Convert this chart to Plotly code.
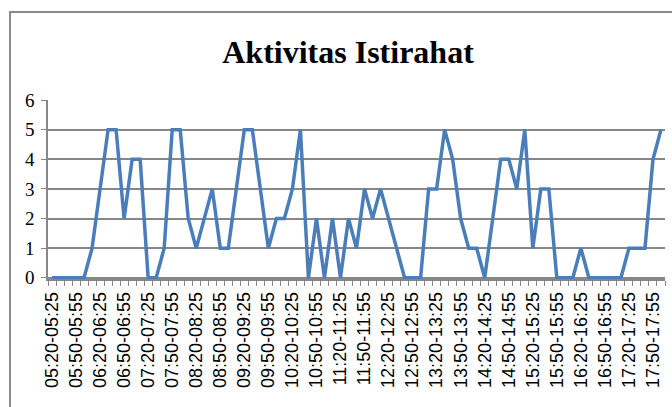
import plotly.graph_objects as go

title_text = "Aktivitas Istirahat"

categories = [
    "05:20-05:25", "05:30-05:35", "05:40-05:45", "05:50-05:55", "06:00-06:05", "06:10-06:15",
    "06:20-06:25", "06:30-06:35", "06:40-06:45", "06:50-06:55", "07:00-07:05", "07:10-07:15",
    "07:20-07:25", "07:30-07:35", "07:40-07:45", "07:50-07:55", "08:00-08:05", "08:10-08:15",
    "08:20-08:25", "08:30-08:35", "08:40-08:45", "08:50-08:55", "09:00-09:05", "09:10-09:15",
    "09:20-09:25", "09:30-09:35", "09:40-09:45", "09:50-09:55", "10:00-10:05", "10:10-10:15",
    "10:20-10:25", "10:30-10:35", "10:40-10:45", "10:50-10:55", "11:00-11:05", "11:10-11:15",
    "11:20-11:25", "11:30-11:35", "11:40-11:45", "11:50-11:55", "12:00-12:05", "12:10-12:15",
    "12:20-12:25", "12:30-12:35", "12:40-12:45", "12:50-12:55", "13:00-13:05", "13:10-13:15",
    "13:20-13:25", "13:30-13:35", "13:40-13:45", "13:50-13:55", "14:00-14:05", "14:10-14:15",
    "14:20-14:25", "14:30-14:35", "14:40-14:45", "14:50-14:55", "15:00-15:05", "15:10-15:15",
    "15:20-15:25", "15:30-15:35", "15:40-15:45", "15:50-15:55", "16:00-16:05", "16:10-16:15",
    "16:20-16:25", "16:30-16:35", "16:40-16:45", "16:50-16:55", "17:00-17:05", "17:10-17:15",
    "17:20-17:25", "17:30-17:35", "17:40-17:45", "17:50-17:55", "18:00-18:05",
]

values = [
    0, 0, 0, 0, 0, 1, 3, 5, 5, 2, 4, 4,
    0, 0, 1, 5, 5, 2, 1, 2, 3, 1, 1, 3,
    5, 5, 3, 1, 2, 2, 3, 5, 0, 2, 0, 2,
    0, 2, 1, 3, 2, 3, 2, 1, 0, 0, 0, 3,
    3, 5, 4, 2, 1, 1, 0, 2, 4, 4, 3, 5,
    1, 3, 3, 0, 0, 0, 1, 0, 0, 0, 0, 0,
    1, 1, 1, 4, 5,
]

y_ticks = [0, 1, 2, 3, 4, 5, 6]
label_step = 3

x_idx = list(range(len(categories)))
tick_pos = x_idx[::label_step]
tick_txt = categories[::label_step]

fig = go.Figure()
fig.add_trace(go.Scatter(
    x=x_idx, y=values, mode="lines",
    line=dict(color="#4a7ebb", width=3.5),
    hoverinfo="skip", showlegend=False,
))

grid_c = "#878787"
fig.update_layout(
    width=672, height=407,
    margin=dict(l=48, r=7, t=100, b=128, autoexpand=False),
    paper_bgcolor="white", plot_bgcolor="white",
    title=dict(
        text=title_text, x=348/672, xanchor="center", y=1-52/407, yanchor="middle",
        font=dict(family="Liberation Serif", size=32, color="black", weight="bold"),
    ),
    xaxis=dict(
        range=[-0.5, len(categories) - 0.5], automargin=False,
        tickmode="array", tickvals=tick_pos, ticktext=tick_txt,
        tickangle=-90, ticks="", showgrid=False, zeroline=False,
        showline=True, linecolor=grid_c, linewidth=1.5, ticklabelstandoff=4,
        tickfont=dict(family="Liberation Sans", size=18, color="black"),
        minor=dict(tick0=-0.5, dtick=1, ticks="outside", ticklen=5,
                   tickcolor=grid_c, tickwidth=1, showgrid=False),
    ),
    yaxis=dict(
        range=[-0.04, 6], tickmode="array", tickvals=y_ticks, automargin=False,
        ticks="outside", ticklen=5, tickcolor=grid_c, tickwidth=1,
        showgrid=True, gridcolor=grid_c, gridwidth=1.5, zeroline=False,
        showline=True, linecolor=grid_c, linewidth=1.5, ticklabelstandoff=3,
        tickfont=dict(family="Liberation Serif", size=19, color="black"),
    ),
    shapes=[dict(
        type="rect", xref="paper", yref="paper",
        x0=(10-48)/617, x1=1.2, y0=-1.2, y1=(279-12)/179,
        line=dict(color="#8a8a8a", width=2), fillcolor="rgba(0,0,0,0)", layer="below",
    )],
)

fig.write_html(
    "out.html",
    config={"displayModeBar": False},
    post_script="document.body.style.margin='0';document.body.style.overflow='hidden';",
)
